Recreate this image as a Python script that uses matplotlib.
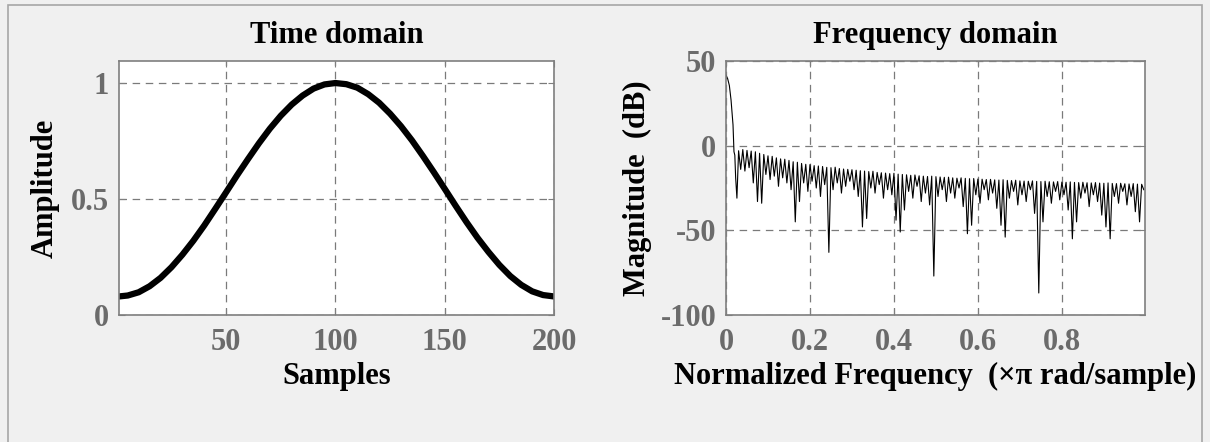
import numpy as np
import matplotlib
matplotlib.use('Agg')
from matplotlib import pyplot as plt
from matplotlib.patches import Rectangle

# Time domain: window samples
samples = [1, 5, 10, 15, 20, 25, 30, 35, 40, 45, 50, 55, 60, 65, 70, 75, 80, 85, 90, 95, 100,
           105, 110, 115, 120, 125, 130, 135, 140, 145, 150, 155, 160, 165, 170, 175, 180,
           185, 190, 195, 200]
amplitude = [0.08, 0.084, 0.098, 0.124, 0.16, 0.206, 0.26, 0.32, 0.386, 0.457, 0.529, 0.602,
             0.672, 0.74, 0.803, 0.859, 0.907, 0.946, 0.976, 0.994, 1.0,
             0.995, 0.98, 0.952, 0.915, 0.868, 0.814, 0.753, 0.686, 0.616, 0.544, 0.471,
             0.40, 0.333, 0.272, 0.216, 0.168, 0.13, 0.102, 0.086, 0.08]

# Frequency domain: main lobe, then sidelobe peaks / nulls (dB)
main_lobe_freq = [0.0, 0.004, 0.008, 0.012, 0.0167, 0.019, 0.021, 0.023, 0.026]
main_lobe_db = [41.7, 39.5, 35.5, 27.0, 12.3, -3.6, -5.6, -19.0, -31.0]

sidelobe_peak_db = [-3.0, -2.3, -2.8, -3.2, -3.6, -4.5, -5.2, -6.0, -6.3, -7.2,
                    -7.8, -8.0, -8.7, -9.5, -9.8, -10.5, -11.0, -11.2, -11.8, -12.0,
                    -12.3, -12.8, -13.0, -12.7, -13.5, -13.8, -14.0, -14.2, -14.5, -14.8,
                    -15.0, -15.3, -15.1, -15.8, -16.0, -16.2, -16.5, -16.3, -16.8, -17.0,
                    -17.2, -17.5, -17.3, -17.8, -18.0, -18.2, -18.0, -18.3, -18.5, -18.7,
                    -18.6, -19.0, -19.2, -19.0, -19.3, -19.5, -19.4, -19.7, -19.8, -20.0,
                    -19.9, -20.2, -20.3, -20.1, -20.5, -20.6, -20.4, -20.8, -20.9, -21.0,
                    -20.8, -21.1, -21.2, -21.0, -21.3, -21.4, -21.2, -21.5, -21.6, -21.4,
                    -21.7, -21.8, -21.6, -21.9, -22.0, -21.8, -22.1, -22.2, -22.0, -22.3,
                    -22.4, -22.2, -22.5, -22.6, -22.4, -22.7, -22.8]
sidelobe_null_db = [-14, -15, -13, -22, -33, -34, -17, -20, -18, -24,
                    -19, -22, -26, -45, -33, -22, -27, -21, -25, -30,
                    -23, -63, -26, -22, -28, -24, -21, -26, -30, -48,
                    -43, -25, -28, -23, -31, -26, -29, -44, -51, -38,
                    -27, -31, -24, -33, -28, -35, -77, -30, -26, -33,
                    -28, -31, -25, -36, -52, -47, -29, -34, -26, -32,
                    -28, -37, -47, -54, -31, -27, -35, -29, -33, -26,
                    -40, -87, -45, -30, -34, -27, -32, -29, -38, -55,
                    -45, -31, -28, -36, -29, -33, -41, -48, -55, -30,
                    -34, -27, -35, -30, -39, -45, -26]

W, H = 1210, 442
fig = plt.figure(figsize=(W / 100, H / 100), dpi=100, facecolor='#f0f0f0')
plt.rcParams['font.family'] = ['Liberation Serif', 'DejaVu Serif']
plt.rcParams['axes.unicode_minus'] = False

# panel border
fig.patches.append(Rectangle((8 / W, -0.1), (1202 - 8) / W, 1.1 - 5 / H,
                             transform=fig.transFigure, fill=False,
                             edgecolor='#a6a6a6', lw=1.2))

tick_color = '#6b6b6b'
fs = 22


def style_axes(ax):
    ax.set_facecolor('white')
    for s in ax.spines.values():
        s.set_color('#7f7f7f')
        s.set_linewidth(1.2)
    ax.grid(True, color='#7a7a7a', linestyle=(0, (6, 4.5)), linewidth=0.9)
    ax.tick_params(direction='in', length=4, width=0.8, color='#7f7f7f',
                   top=True, right=True, labelsize=fs, labelcolor=tick_color)
    ax.tick_params(axis='x', pad=9)
    ax.tick_params(axis='y', pad=7)
    for lab in ax.get_xticklabels() + ax.get_yticklabels():
        lab.set_fontweight('bold')


# left: time domain
ax1 = fig.add_axes([119 / W, (H - 315) / H, 435 / W, 254 / H])
ax1.plot(samples, amplitude, color='black', lw=4.5, solid_capstyle='round')
ax1.set_xlim(1, 200)
ax1.set_ylim(0, 1.095)
ax1.set_xticks([50, 100, 150, 200])
ax1.set_yticks([0, 0.5, 1])
ax1.set_yticklabels(['0', '0.5', '1'])
style_axes(ax1)
ax1.set_title('Time domain', fontsize=fs, fontweight='bold', pad=13)
ax1.set_xlabel('Samples', fontsize=fs, fontweight='bold', labelpad=4)
ax1.set_ylabel('Amplitude', fontsize=fs, fontweight='bold', labelpad=8)

# right: frequency domain
peak_null = np.empty(2 * len(sidelobe_peak_db))
peak_null[0::2] = sidelobe_peak_db
peak_null[1::2] = sidelobe_null_db
lobe_freq = np.linspace(0.03, 0.995, len(peak_null))
freq = np.concatenate([main_lobe_freq, lobe_freq])
mag = np.concatenate([main_lobe_db, peak_null])

ax2 = fig.add_axes([726 / W, (H - 315) / H, 419 / W, 254 / H])
ax2.plot(freq, mag, color='black', lw=0.8)
ax2.set_xlim(0, 0.998)
ax2.set_ylim(-100, 50)
ax2.set_xticks([0, 0.2, 0.4, 0.6, 0.8])
ax2.set_xticklabels(['0', '0.2', '0.4', '0.6', '0.8'])
ax2.set_yticks([-100, -50, 0, 50])
style_axes(ax2)
ax2.set_title('Frequency domain', fontsize=fs, fontweight='bold', pad=13)
ax2.set_xlabel('Normalized Frequency  (\u00d7\u03c0 rad/sample)', fontsize=fs,
               fontweight='bold', labelpad=4)
ax2.set_ylabel('Magnitude  (dB)', fontsize=fs, fontweight='bold', labelpad=6)

fig.savefig('out.png', dpi=100, facecolor=fig.get_facecolor())
